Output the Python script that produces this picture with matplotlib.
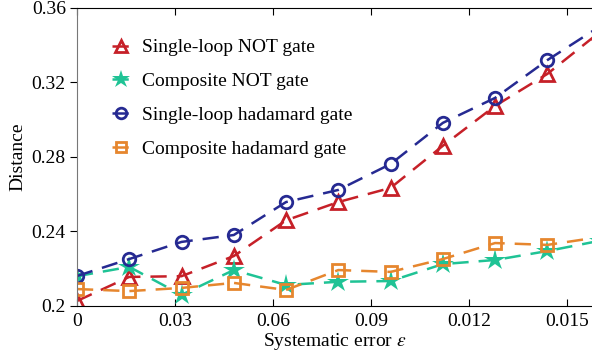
import matplotlib
matplotlib.use('Agg')
from matplotlib import pyplot as plt

## Data
eps = [0, 0.016, 0.032, 0.048, 0.064, 0.08, 0.096, 0.112, 0.128, 0.144, 0.16]
single_not = [0.2027, 0.2156, 0.2160, 0.2268, 0.2460, 0.2558, 0.2634, 0.2860, 0.3074, 0.3246, 0.3470]
comp_not = [0.2160, 0.2210, 0.2060, 0.2193, 0.2113, 0.2130, 0.2134, 0.2225, 0.2247, 0.2295, 0.2350]
single_had = [0.2161, 0.2252, 0.2344, 0.2381, 0.2558, 0.2623, 0.2762, 0.2983, 0.3117, 0.3320, 0.3500]
comp_had = [0.2091, 0.2080, 0.2097, 0.2124, 0.2086, 0.2193, 0.2183, 0.2252, 0.2338, 0.2328, 0.2370]

xticks = [0, 0.03, 0.06, 0.09, 0.12, 0.15]
xticklabels = ['0', '0.03', '0.06', '0.09', '0.012', '0.015']
yticks = [0.2, 0.24, 0.28, 0.32, 0.36]
yticklabels = ['0.2', '0.24', '0.28', '0.32', '0.36']

plt.rcParams['font.family'] = ['Liberation Serif', 'DejaVu Serif']
plt.rcParams['mathtext.fontset'] = 'stix'

fig = plt.figure(figsize=(5.92, 3.6), dpi=100)
ax = fig.add_axes([0.130, 0.150, 0.870, 0.828])

dash = (6.5, 4)
ax.plot(eps, single_not, color='#c62028', lw=1.8, dashes=dash, marker='^', ms=10,
        mfc='none', mew=2, label='Single-loop NOT gate')
ax.plot(eps, comp_not, color='#1fc395', lw=1.8, dashes=dash, marker='*', ms=16,
        mew=0, label='Composite NOT gate')
ax.plot(eps, single_had, color='#262a92', lw=1.8, dashes=dash, marker='o', ms=9,
        mfc='none', mew=2, label='Single-loop hadamard gate')
ax.plot(eps, comp_had, color='#e6862e', lw=1.8, dashes=dash, marker='s', ms=8,
        mfc='none', mew=2, label='Composite hadamard gate')

ax.set_xlim(0, 0.15765)
ax.set_ylim(0.2, 0.36)
ax.set_xticks(xticks)
ax.set_xticklabels(xticklabels)
ax.set_yticks(yticks)
ax.set_yticklabels(yticklabels)
ax.tick_params(axis='x', direction='in', top=True, length=5, labelsize=14, pad=5)
ax.tick_params(axis='y', direction='out', length=5, labelsize=14, pad=3)
ax.spines['right'].set_visible(False)
ax.spines['left'].set_color('#777777')
ax.set_xlabel(r'Systematic error $\epsilon$', fontsize=14, labelpad=1)
ax.set_ylabel('Distance', fontsize=14, labelpad=4)

leg = ax.legend(loc='upper left', bbox_to_anchor=(0.035, 0.955), frameon=False, fontsize=14,
                handlelength=0.9, handletextpad=0.6, labelspacing=0.83, markerscale=0.85)

fig.savefig('out.png', dpi=100)
